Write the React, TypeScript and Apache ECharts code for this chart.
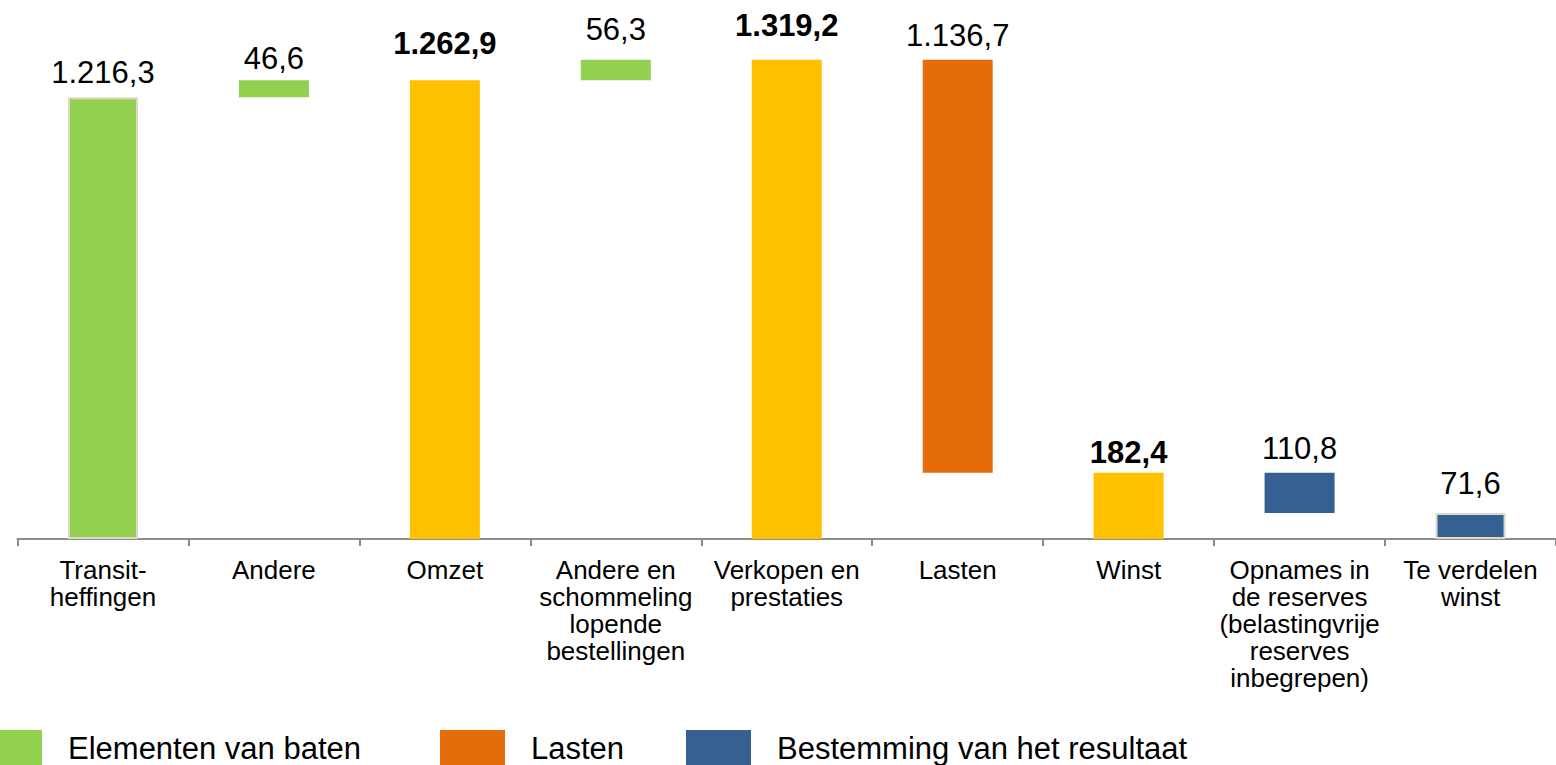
import React, { useEffect, useRef } from "react";
import * as echarts from "echarts";

const categories = [
  "Transit-\nheffingen",
  "Andere",
  "Omzet",
  "Andere en\nschommeling\nlopende\nbestellingen",
  "Verkopen en\nprestaties",
  "Lasten",
  "Winst",
  "Opnames in\nde reserves\n(belastingvrije\nreserves\ninbegrepen)",
  "Te verdelen\nwinst",
];
const values = [1216.3, 46.6, 1262.9, 56.3, 1319.2, 1136.7, 182.4, 110.8, 71.6];
const kinds = ["baten", "baten", "totaal", "baten", "totaal", "lasten", "totaal", "bestemming", "bestemming"];
const fromZero = [true, false, true, false, true, false, true, false, true];
const legendNames = ["Elementen van baten", "Lasten", "Bestemming van het resultaat"];

// styling
const COLORS: Record<string, string> = {
  baten: "#92D050",
  totaal: "#FFC000",
  lasten: "#E46C0A",
  bestemming: "#376092",
};
const SERIES_NAME: Record<string, string> = {
  baten: "Elementen van baten",
  totaal: "Totaal",
  lasten: "Lasten",
  bestemming: "Bestemming van het resultaat",
};
const labelDistance = [9, 6.5, 21.5, 14.5, 18.5, 9, 4.5, 8.5, 13.5];
const bordered = [true, false, false, false, false, false, false, false, true];

function fmt(v: number) {
  const [i, d] = v.toFixed(1).split(".");
  return i.replace(/\B(?=(\d{3})+(?!\d))/g, ".") + "," + d;
}

export default function App() {
  const ref = useRef<HTMLDivElement>(null);
  useEffect(() => {
    if (!ref.current) return;
    const chart = echarts.init(ref.current, null, { renderer: "svg" });

    // compute waterfall bases
    const bases: number[] = [];
    let running = 0;
    values.forEach((v, i) => {
      if (fromZero[i]) {
        bases.push(0);
        running = v;
      } else if (kinds[i] === "baten") {
        bases.push(running);
        running += v;
      } else {
        running -= v;
        bases.push(running);
      }
    });

    const kindList = ["baten", "totaal", "lasten", "bestemming"];
    const visible = kindList.map((k) => ({
      name: SERIES_NAME[k],
      type: "bar",
      stack: "w",
      barWidth: 70,
      itemStyle: { color: COLORS[k] },
      label: {
        show: true,
        position: "top",
        color: "#000",
        fontFamily: "Liberation Sans, Arial, sans-serif",
        fontSize: 31,
        fontWeight: k === "totaal" ? "bold" : "normal",
        formatter: (p: any) => fmt(p.value),
      },
      data: values.map((v, i) =>
        kinds[i] === k
          ? {
              value: v,
              label: { distance: labelDistance[i] },
              itemStyle: bordered[i]
                ? { borderColor: "#DDD9C4", borderWidth: 2 }
                : undefined,
            }
          : "-"
      ),
    }));

    const legendCommon = {
      top: 730,
      padding: 0,
      itemWidth: 65,
      itemHeight: 36,
      icon: "rect",
      selectedMode: false,
      textStyle: {
        color: "#000",
        fontSize: 31,
        fontFamily: "Liberation Sans, Arial, sans-serif",
        padding: [0, 0, 0, 21],
      },
    };

    chart.setOption({
      animation: false,
      legend: [
        { ...legendCommon, left: -23, data: [legendNames[0]] },
        { ...legendCommon, left: 440, data: [legendNames[1]] },
        { ...legendCommon, left: 686, data: [legendNames[2]] },
      ],
      grid: { left: 17.5, width: 1542, top: 30.5, height: 508.5 },
      xAxis: {
        type: "category",
        data: categories,
        axisLine: { lineStyle: { color: "#8C8C8C", width: 2 } },
        axisTick: { show: true, length: 7, lineStyle: { color: "#8C8C8C", width: 2 } },
        axisLabel: {
          interval: 0,
          margin: 17,
          color: "#000",
          fontSize: 26,
          lineHeight: 27,
          fontFamily: "Liberation Sans, Arial, sans-serif",
        },
      },
      yAxis: {
        type: "value",
        min: 0,
        max: 1400,
        show: false,
        splitLine: { show: false },
      },
      series: [
        {
          name: "base",
          type: "bar",
          stack: "w",
          barWidth: 70,
          silent: true,
          itemStyle: { color: "transparent" },
          data: bases,
        },
        ...visible,
      ],
    });
    return () => chart.dispose();
  }, []);
  return (
    <div
      ref={ref}
      style={{ position: "absolute", left: 0, top: 0, width: 1556, height: 765, background: "#fff" }}
    />
  );
}
